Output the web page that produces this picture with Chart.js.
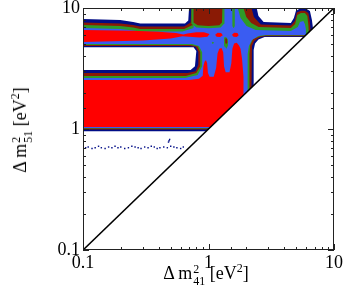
<!DOCTYPE html>
<html>
<head>
<meta charset="utf-8">
<script src="https://cdn.jsdelivr.net/npm/chart.js@4.4.1/dist/chart.umd.min.js"></script>
<style>
html,body{margin:0;padding:0;background:#fff}
#wrap{position:relative;width:345px;height:286px}
#c{position:absolute;left:0;top:0}
.ttl{position:absolute;font-family:"Liberation Serif","DejaVu Serif",serif;font-size:18px;color:#000;white-space:nowrap;line-height:1}
.ss{display:inline-block;vertical-align:-6px;font-size:12px;line-height:12px;margin-left:1px}
.ss span{display:block}
.ttl sup{font-size:12px;vertical-align:7px;line-height:0}
#xt{left:206px;top:263px;transform:translateX(-50%)}
#yt{left:22px;top:130px;transform:translate(-50%,-50%) rotate(-90deg)}
</style>
</head>
<body>
<div id="wrap">
  <canvas id="c" width="345" height="286"></canvas>
  <div class="ttl" id="xt">Δ m<span class="ss"><span>2</span><span>41</span></span> [eV<sup>2</sup>]</div>
  <div class="ttl" id="yt">Δ m<span class="ss"><span>2</span><span>51</span></span> [eV<sup>2</sup>]</div>
</div>
<script>
// contours Δm²41 / Δm²51 — niveaux du plus large (bleu foncé) au plus serré (rouge)
const NAVY = "#000c86", DARK = "#8a1a05", GREEN = "#2e9a28", BLUE = "#3a5cf2", RED = "#ff0000";

const tickLabels = ["0.1", "1", "10"];

// niveau 1 (bleu foncé)
const navyPts = [[0.1,8.11],[0.198,7.96],[0.251,7.66],[0.286,7.45],[0.65,7.45],[0.69,7.9],[0.70,10],
  [2.42,10],[2.5,8.6],[2.75,7.66],[4.53,7.52],[4.79,8.26],[4.97,9.44],[5.35,9.9],[5.97,9.9],[6.43,9.44],
  [6.67,7.96],[6.8,6.8],[5.75,5.75],[4.97,5.75],[2.8,5.75],[2.5,5.5],[2.35,5.1],[2.29,4.5],[2.29,2.29],
  [0.96,0.96],[0.1,0.96],[0.1,3.07],[0.72,3.07],[0.78,3.3],[0.80,4.41],[0.76,4.73],[0.1,4.73]];

// niveau 2 (rouge foncé)
const darkPts = [[0.1,7.59],[0.198,7.45],[0.251,7.24],[0.286,7.03],[0.64,7.03],[0.72,7.6],[0.73,10],
  [2.2,10],[2.3,8.43],[2.61,7.3],[4.53,7.17],[4.87,7.81],[5.05,9.2],[5.45,9.5],[5.86,9.5],[6.25,9.1],
  [6.43,7.66],[6.5,6.5],[5.85,5.85],[4.97,5.85],[2.8,5.85],[2.55,5.7],[2.32,5.34],[2.22,4.85],[2.2,4.17],
  [2.2,2.2],[0.99,0.99],[0.1,0.99],[0.1,2.9],[0.68,2.9],[0.79,3.0],[0.83,3.4],[0.83,4.35],[0.79,4.78],
  [0.7,4.85],[0.1,4.85]];

// niveau 3 (vert)
const greenPts = [[0.1,7.24],[0.198,7.1],[0.251,6.9],[0.286,6.71],[0.64,6.71],[0.74,7.2],[0.75,10],
  [1.9,10],[2.0,8.43],[2.19,7.52],[2.51,6.97],[4.53,6.84],[4.9,7.38],[5.1,8.75],[5.45,9.1],[5.86,9.1],
  [6.13,8.59],[6.25,7.24],[6.3,6.3],[5.92,5.92],[4.97,5.92],[2.85,5.92],[2.55,5.81],[2.27,5.55],[2.15,4.95],
  [2.12,4.17],[2.12,2.12],[1.01,1.01],[0.1,1.01],[0.1,2.74],[0.66,2.74],[0.8,2.9],[0.86,3.3],[0.86,4.3],
  [0.82,4.8],[0.72,4.95],[0.1,4.95]];

// niveau 4 (bleu)
const bluePts = [[0.1,6.84],[0.198,6.71],[0.251,6.52],[0.286,6.4],[0.62,6.4],[0.76,6.84],[0.77,10],
  [1.71,10],[1.8,8.27],[2.01,7.1],[2.38,6.58],[4.53,6.45],[5.15,6.97],[5.35,7.66],[5.7,7.8],[5.86,7.38],
  [5.97,6.7],[5.98,5.98],[4.97,5.98],[2.85,5.98],[2.5,5.87],[2.22,5.44],[2.1,4.85],[2.05,4.17],[2.05,2.05],
  [1.02,1.02],[0.1,1.02],[0.1,2.64],[0.65,2.64],[0.82,2.8],[0.89,3.3],[0.89,4.3],[0.84,4.85],[0.74,5.04],
  [0.1,5.04]];

// colonnes et îlots dans la bande verticale
const greenCol  = [[0.73,10],[0.73,7.4],[0.8,6.9],[1.0,6.8],[1.25,6.9],[1.33,7.4],[1.34,10]];
const darkCol   = [[0.76,10],[0.76,7.6],[0.82,7.2],[1.0,7.1],[1.22,7.2],[1.28,7.6],[1.29,10]];
const greenLine = [[1.55,10],[1.55,7.1],[1.585,6.8],[1.62,7.1],[1.62,10]];
const greenFing = [[1.33,5.7],[1.38,5.75],[1.43,5.5],[1.43,4.9],[1.39,4.6],[1.35,4.8],[1.33,5.3]];
const darkFing  = [[1.36,5.6],[1.4,5.6],[1.41,5.2],[1.38,5.0],[1.36,5.2]];
const greenDot  = [[1.06,5.15],[1.08,5.25],[1.11,5.15],[1.08,5.05]];

// niveau 5 (rouge)
const redLow = [[0.1,2.54],[0.7,2.54],[0.84,2.6],[0.9,2.75],[0.91,3.3],[0.93,3.6],[0.955,3.72],[0.975,3.5],
  [0.99,2.9],[1.02,2.7],[1.1,2.7],[1.15,3.2],[1.18,4.2],[1.22,4.6],[1.27,4.67],[1.31,4.3],[1.33,3.3],
  [1.37,2.95],[1.47,2.95],[1.52,3.5],[1.55,4.6],[1.6,5.1],[1.68,5.15],[1.75,4.9],[1.8,4.6],[1.85,3.8],
  [1.9,2.7],[1.9,1.9],[1.04,1.04],[0.1,1.04]];
const redUp = [[0.1,6.58],[0.25,6.5],[0.4,6.35],[0.55,6.2],[0.63,6.05],[0.68,6.15],[0.8,6.3],[0.92,6.3],
  [1.02,6.1],[0.98,5.8],[0.85,5.7],[0.7,5.8],[0.62,5.85],[0.5,5.6],[0.3,5.4],[0.1,5.24]];
const redB = [[1.13,6.0],[1.18,6.25],[1.26,6.2],[1.3,5.95],[1.24,5.75],[1.16,5.8]];
const redC = [[1.54,6.0],[1.6,6.25],[1.7,6.2],[1.74,5.95],[1.68,5.75],[1.58,5.8]];

// points isolés vers Δm²51 ≈ 0.7
const dotX = [0.105,0.11,0.118,0.125,0.133,0.14,0.15,0.16,0.17,0.18,0.19,0.2,0.215,0.23,0.245,0.26,
  0.275,0.29,0.31,0.33,0.35,0.37,0.39,0.41,0.44,0.47,0.48,0.485,0.49,0.5,0.53,0.56,0.6,0.63];
const dotY = [0.70,0.71,0.69,0.70,0.72,0.70,0.69,0.71,0.70,0.72,0.70,0.71,0.69,0.70,0.72,0.71,
  0.70,0.69,0.71,0.70,0.72,0.71,0.69,0.70,0.71,0.70,0.78,0.80,0.82,0.72,0.71,0.70,0.69,0.71];

const diagX = [0.1, 10], diagY = [0.1, 10];

const layers = [
  [navyPts, NAVY], [darkPts, DARK], [greenPts, GREEN], [bluePts, BLUE],
  [greenCol, GREEN], [darkCol, DARK], [greenLine, GREEN], [greenFing, GREEN], [darkFing, DARK],
  [greenDot, GREEN], [redLow, RED], [redUp, RED], [redB, RED], [redC, RED],
];

const toXY = pts => pts.map(([x, y]) => ({x, y}));
const isMajor = v => Math.abs(Math.log10(v) - Math.round(Math.log10(v))) < 1e-6;

const datasets = layers.map(([pts, col], i) => ({
  type: "line", data: toXY(pts), fill: "shape",
  backgroundColor: col, borderColor: "transparent", borderWidth: 0,
  pointRadius: 0, tension: 0, order: layers.length - i + 2,
}));
datasets.push({
  type: "scatter", data: dotX.map((x, i) => ({x, y: dotY[i]})),
  backgroundColor: NAVY, borderWidth: 0, pointRadius: 1, pointStyle: "rect", order: 1,
});
datasets.push({
  type: "line", data: diagX.map((x, i) => ({x, y: diagY[i]})),
  borderColor: "#000", borderWidth: 1.6, pointRadius: 0, fill: false, order: 0,
});

// cadre + graduations vers l'intérieur, sur les 4 côtés
const cadre = {
  id: "cadre",
  afterDraw(chart) {
    const {ctx, chartArea: a, scales: {x, y}} = chart;
    ctx.save();
    ctx.strokeStyle = "#222"; ctx.lineWidth = 1;
    ctx.strokeRect(a.left + 0.5, a.top + 0.5, a.right - a.left - 1, a.bottom - a.top - 1);
    ctx.beginPath();
    x.ticks.forEach(t => {
      const p = Math.round(x.getPixelForValue(t.value)) + 0.5, l = isMajor(t.value) ? 6 : 3;
      ctx.moveTo(p, a.bottom); ctx.lineTo(p, a.bottom - l);
      ctx.moveTo(p, a.top); ctx.lineTo(p, a.top + l);
    });
    y.ticks.forEach(t => {
      const p = Math.round(y.getPixelForValue(t.value)) + 0.5, l = isMajor(t.value) ? 6 : 3;
      ctx.moveTo(a.left, p); ctx.lineTo(a.left + l, p);
      ctx.moveTo(a.right, p); ctx.lineTo(a.right - l, p);
    });
    ctx.stroke();
    ctx.restore();
  }
};

const tickFont = {family: "Liberation Serif", size: 18};
const label = v => isMajor(v) ? tickLabels[Math.round(Math.log10(v)) + 1] : "";

new Chart(document.getElementById("c"), {
  type: "scatter",
  data: {datasets},
  options: {
    responsive: false, animation: false, devicePixelRatio: 1,
    layout: {padding: {left: 0, right: 11, top: 8, bottom: 0}},
    plugins: {legend: {display: false}, tooltip: {enabled: false}},
    scales: {
      x: {
        type: "logarithmic", min: 0.1, max: 10,
        grid: {display: false, drawTicks: false}, border: {display: false},
        ticks: {autoSkip: false, maxRotation: 0, padding: 2, color: "#000", font: tickFont, callback: label},
        afterFit: s => { s.height = 36; s.paddingLeft = 0; s.paddingRight = 0; },
      },
      y: {
        type: "logarithmic", min: 0.1, max: 10,
        grid: {display: false, drawTicks: false}, border: {display: false},
        ticks: {autoSkip: false, padding: 3, color: "#000", font: tickFont, callback: label},
        afterFit: s => { s.width = 83; s.paddingTop = 0; s.paddingBottom = 0; },
      },
    },
  },
  plugins: [cadre],
});
</script>
</body>
</html>
